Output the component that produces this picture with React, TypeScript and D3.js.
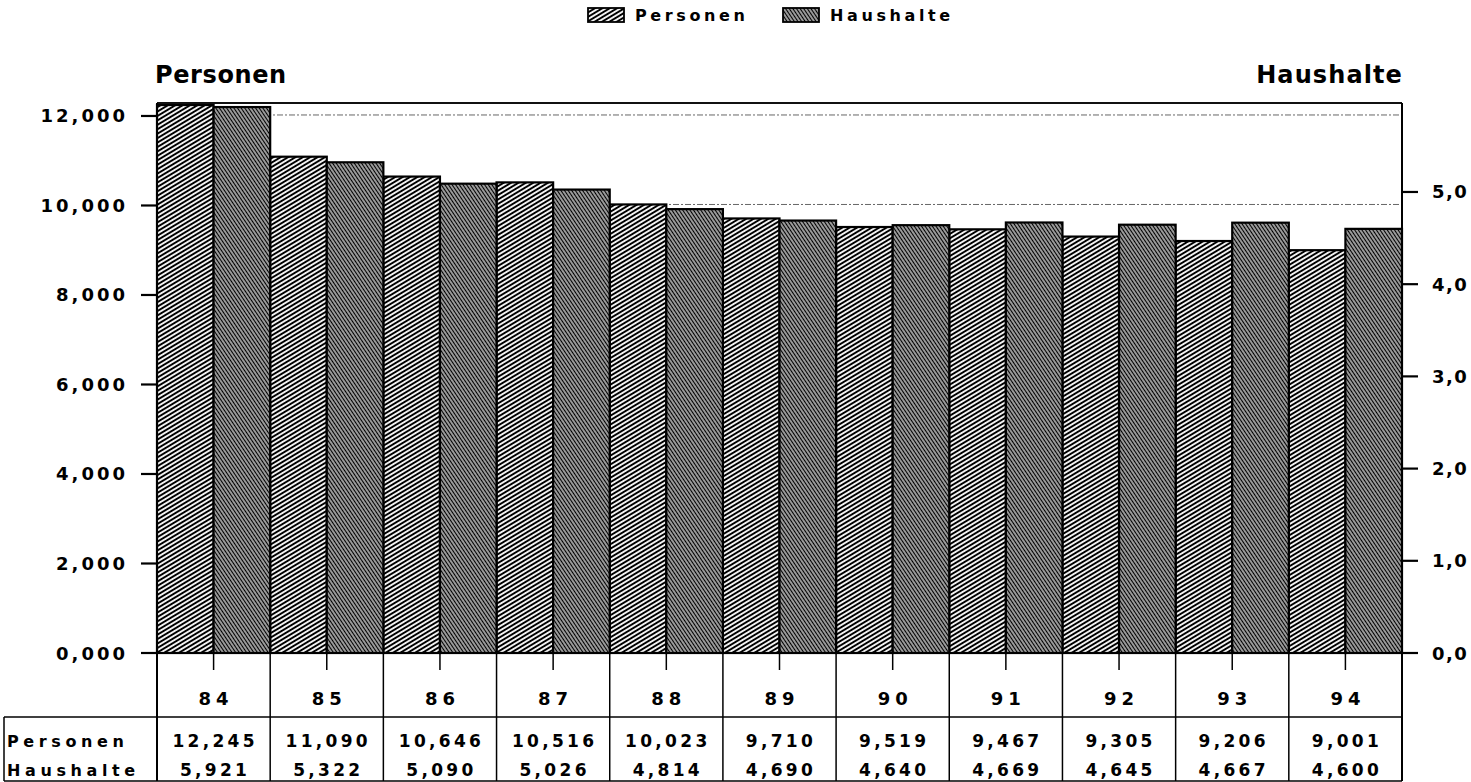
import { useEffect, useRef } from 'react'
import * as d3 from 'd3'

// Werte in Tausend (deutsche Schreibweise: Komma = Dezimaltrennzeichen)
const years = ['84', '85', '86', '87', '88', '89', '90', '91', '92', '93', '94']
const personen = [12.245, 11.09, 10.646, 10.516, 10.023, 9.71, 9.519, 9.467, 9.305, 9.206, 9.001]
const haushalte = [5.921, 5.322, 5.09, 5.026, 4.814, 4.69, 4.64, 4.669, 4.645, 4.667, 4.6]
const leftTicks = [0, 2, 4, 6, 8, 10, 12]
const rightTicks = [0, 1, 2, 3, 4, 5]
const seriesNames = ['Personen', 'Haushalte']

const FONT = '"DejaVu Sans", Verdana, sans-serif'

const de = d3.formatLocale({ decimal: ',', thousands: '.', grouping: [3], currency: ['', ''] })
const fmt3 = de.format('.3f')
const fmt1 = de.format('.1f')

export default function App() {
  const svgRef = useRef<SVGSVGElement>(null)

  useEffect(() => {
    if (!svgRef.current) return
    const width = 1471
    const height = 782
    const plot = { left: 157, right: 1402, top: 103, bottom: 653 }
    const tableTop = 717
    const tableBottom = 781
    const tableLeft = 4

    const svg = d3.select(svgRef.current)
    svg.selectAll('*').remove()
    svg.attr('width', width).attr('height', height)

    // hatch patterns
    const defs = svg.append('defs')
    const pPers = defs.append('pattern')
      .attr('id', 'hatchPers')
      .attr('patternUnits', 'userSpaceOnUse')
      .attr('width', 12).attr('height', 3.8)
      .attr('patternTransform', 'rotate(-31)')
    pPers.append('rect').attr('width', 12).attr('height', 3.8).attr('fill', '#fff')
    pPers.append('rect').attr('x', 0).attr('width', 12).attr('y', 0.9).attr('height', 2)
      .attr('fill', '#000')

    const pHaus = defs.append('pattern')
      .attr('id', 'hatchHaus')
      .attr('patternUnits', 'userSpaceOnUse')
      .attr('width', 12).attr('height', 3)
      .attr('patternTransform', 'rotate(56)')
    pHaus.append('rect').attr('width', 12).attr('height', 3).attr('fill', '#fff')
    pHaus.append('rect').attr('x', 0).attr('width', 12).attr('y', 0.6).attr('height', 1.8)
      .attr('fill', '#000')

    const fills = ['url(#hatchPers)', 'url(#hatchHaus)']

    const x = d3.scaleBand<string>().domain(years).range([plot.left, plot.right]).padding(0)
    const yL = d3.scaleLinear().domain([0, 12.29]).range([plot.bottom, plot.top])
    const yR = d3.scaleLinear().domain([0, 5.965]).range([plot.bottom, plot.top])
    const bw = x.bandwidth() / 2

    const txt = (sel: d3.Selection<SVGTextElement, unknown, null, undefined>, size: number, ls: number) =>
      sel.attr('font-family', FONT).attr('font-weight', 700).attr('font-size', size)
        .attr('letter-spacing', ls).attr('fill', '#000')

    // gridlines (dotted, behind bars)
    svg.append('g').selectAll('line')
      .data(leftTicks.filter((d) => d > 0))
      .join('line')
      .attr('x1', plot.left).attr('x2', plot.right)
      .attr('y1', (d) => yL(d) - 1).attr('y2', (d) => yL(d) - 1)
      .attr('stroke', '#666').attr('stroke-width', 1)
      .attr('stroke-dasharray', '6,2,2,2')

    // bars
    const gBars = svg.append('g')
    gBars.selectAll('rect.pers')
      .data(personen)
      .join('rect')
      .attr('class', 'pers')
      .attr('x', (_, i) => x(years[i]) ?? 0)
      .attr('y', (d) => yL(d))
      .attr('width', bw)
      .attr('height', (d) => plot.bottom - yL(d))
      .attr('fill', fills[0])
      .attr('stroke', '#000').attr('stroke-width', 2.2)
    gBars.selectAll('rect.haus')
      .data(haushalte)
      .join('rect')
      .attr('class', 'haus')
      .attr('x', (_, i) => (x(years[i]) ?? 0) + bw)
      .attr('y', (d) => yR(d))
      .attr('width', bw)
      .attr('height', (d) => plot.bottom - yR(d))
      .attr('fill', fills[1])
      .attr('stroke', '#000').attr('stroke-width', 2.2)

    // frame
    svg.append('line').attr('x1', plot.left).attr('x2', plot.right).attr('y1', plot.top).attr('y2', plot.top)
      .attr('stroke', '#111').attr('stroke-width', 1.8)
    svg.append('line').attr('x1', plot.left).attr('x2', plot.right).attr('y1', plot.bottom).attr('y2', plot.bottom)
      .attr('stroke', '#000').attr('stroke-width', 2.2)
    svg.append('line').attr('x1', plot.left).attr('x2', plot.left).attr('y1', plot.top).attr('y2', tableBottom)
      .attr('stroke', '#000').attr('stroke-width', 2)
    svg.append('line').attr('x1', plot.right).attr('x2', plot.right).attr('y1', plot.top).attr('y2', tableBottom)
      .attr('stroke', '#000').attr('stroke-width', 2)

    // left axis
    const gL = svg.append('g')
    gL.selectAll('line')
      .data(leftTicks)
      .join('line')
      .attr('x1', plot.left - 16).attr('x2', plot.left)
      .attr('y1', (d) => yL(d)).attr('y2', (d) => yL(d))
      .attr('stroke', '#000').attr('stroke-width', 2.2)
    gL.selectAll('text')
      .data(leftTicks)
      .join('text')
      .attr('x', 125 + 3)
      .attr('y', (d) => yL(d) + 6.5)
      .attr('text-anchor', 'end')
      .text((d) => fmt3(d))
      .call(txt, 18, 3)

    // right axis
    const gR = svg.append('g')
    gR.selectAll('line')
      .data(rightTicks)
      .join('line')
      .attr('x1', plot.right).attr('x2', plot.right + 16)
      .attr('y1', (d) => yR(d)).attr('y2', (d) => yR(d))
      .attr('stroke', '#000').attr('stroke-width', 2.2)
    gR.selectAll('text')
      .data(rightTicks)
      .join('text')
      .attr('x', 1432)
      .attr('y', (d) => yR(d) + 6.5)
      .text((d) => fmt1(d))
      .call(txt, 18, 1.5)

    // axis titles
    svg.append('text').attr('x', plot.left - 2).attr('y', 83).text(seriesNames[0]).call(txt, 24, 0.6)
    svg.append('text').attr('x', plot.right + 1).attr('y', 83).attr('text-anchor', 'end')
      .text(seriesNames[1]).call(txt, 24, 1.1)

    // legend
    const legendItems = [
      { name: seriesNames[0], sx: 588, fill: fills[0] },
      { name: seriesNames[1], sx: 783, fill: fills[1] },
    ]
    const gLeg = svg.append('g')
    legendItems.forEach((it) => {
      gLeg.append('rect').attr('x', it.sx).attr('y', 8).attr('width', 36).attr('height', 14)
        .attr('fill', it.fill).attr('stroke', '#000').attr('stroke-width', 1.8)
      gLeg.append('text').attr('x', it.sx + 47).attr('y', 21).text(it.name).call(txt, 16, 3.6)
    })

    // category ticks and labels
    const gX = svg.append('g')
    gX.selectAll('line.tick')
      .data(years)
      .join('line')
      .attr('class', 'tick')
      .attr('x1', (d) => (x(d) ?? 0) + bw).attr('x2', (d) => (x(d) ?? 0) + bw)
      .attr('y1', plot.bottom).attr('y2', plot.bottom + 17)
      .attr('stroke', '#000').attr('stroke-width', 1.5)
    gX.selectAll('line.sep')
      .data(years.slice(1))
      .join('line')
      .attr('class', 'sep')
      .attr('x1', (d) => x(d) ?? 0).attr('x2', (d) => x(d) ?? 0)
      .attr('y1', plot.bottom).attr('y2', tableBottom)
      .attr('stroke', '#000').attr('stroke-width', 1.5)
    gX.selectAll('text')
      .data(years)
      .join('text')
      .attr('x', (d) => (x(d) ?? 0) + bw + 2.5)
      .attr('y', 705)
      .attr('text-anchor', 'middle')
      .text((d) => d)
      .call(txt, 18, 5)

    // data table
    const gT = svg.append('g')
    gT.append('line').attr('x1', tableLeft).attr('x2', plot.right).attr('y1', tableTop).attr('y2', tableTop)
      .attr('stroke', '#000').attr('stroke-width', 1.5)
    gT.append('line').attr('x1', tableLeft).attr('x2', plot.right).attr('y1', tableBottom).attr('y2', tableBottom)
      .attr('stroke', '#000').attr('stroke-width', 1.5)
    gT.append('line').attr('x1', tableLeft).attr('x2', tableLeft).attr('y1', tableTop).attr('y2', tableBottom)
      .attr('stroke', '#000').attr('stroke-width', 1.5)

    const rows = [
      { name: seriesNames[0], values: personen, base: 747 },
      { name: seriesNames[1], values: haushalte, base: 776 },
    ]
    rows.forEach((r) => {
      gT.append('text').attr('x', 7).attr('y', r.base).text(r.name).call(txt, 16, 4.6)
      gT.append('g').selectAll('text')
        .data(r.values)
        .join('text')
        .attr('x', (_, i) => (x(years[i]) ?? 0) + bw + 1.5)
        .attr('y', r.base)
        .attr('text-anchor', 'middle')
        .text((d) => fmt3(d))
        .call(txt, 17, 3.3)
    })
  }, [])

  return (
    <div style={{ position: 'absolute', left: 0, top: 0, background: '#fff' }}>
      <svg ref={svgRef} style={{ display: 'block' }} />
    </div>
  )
}
